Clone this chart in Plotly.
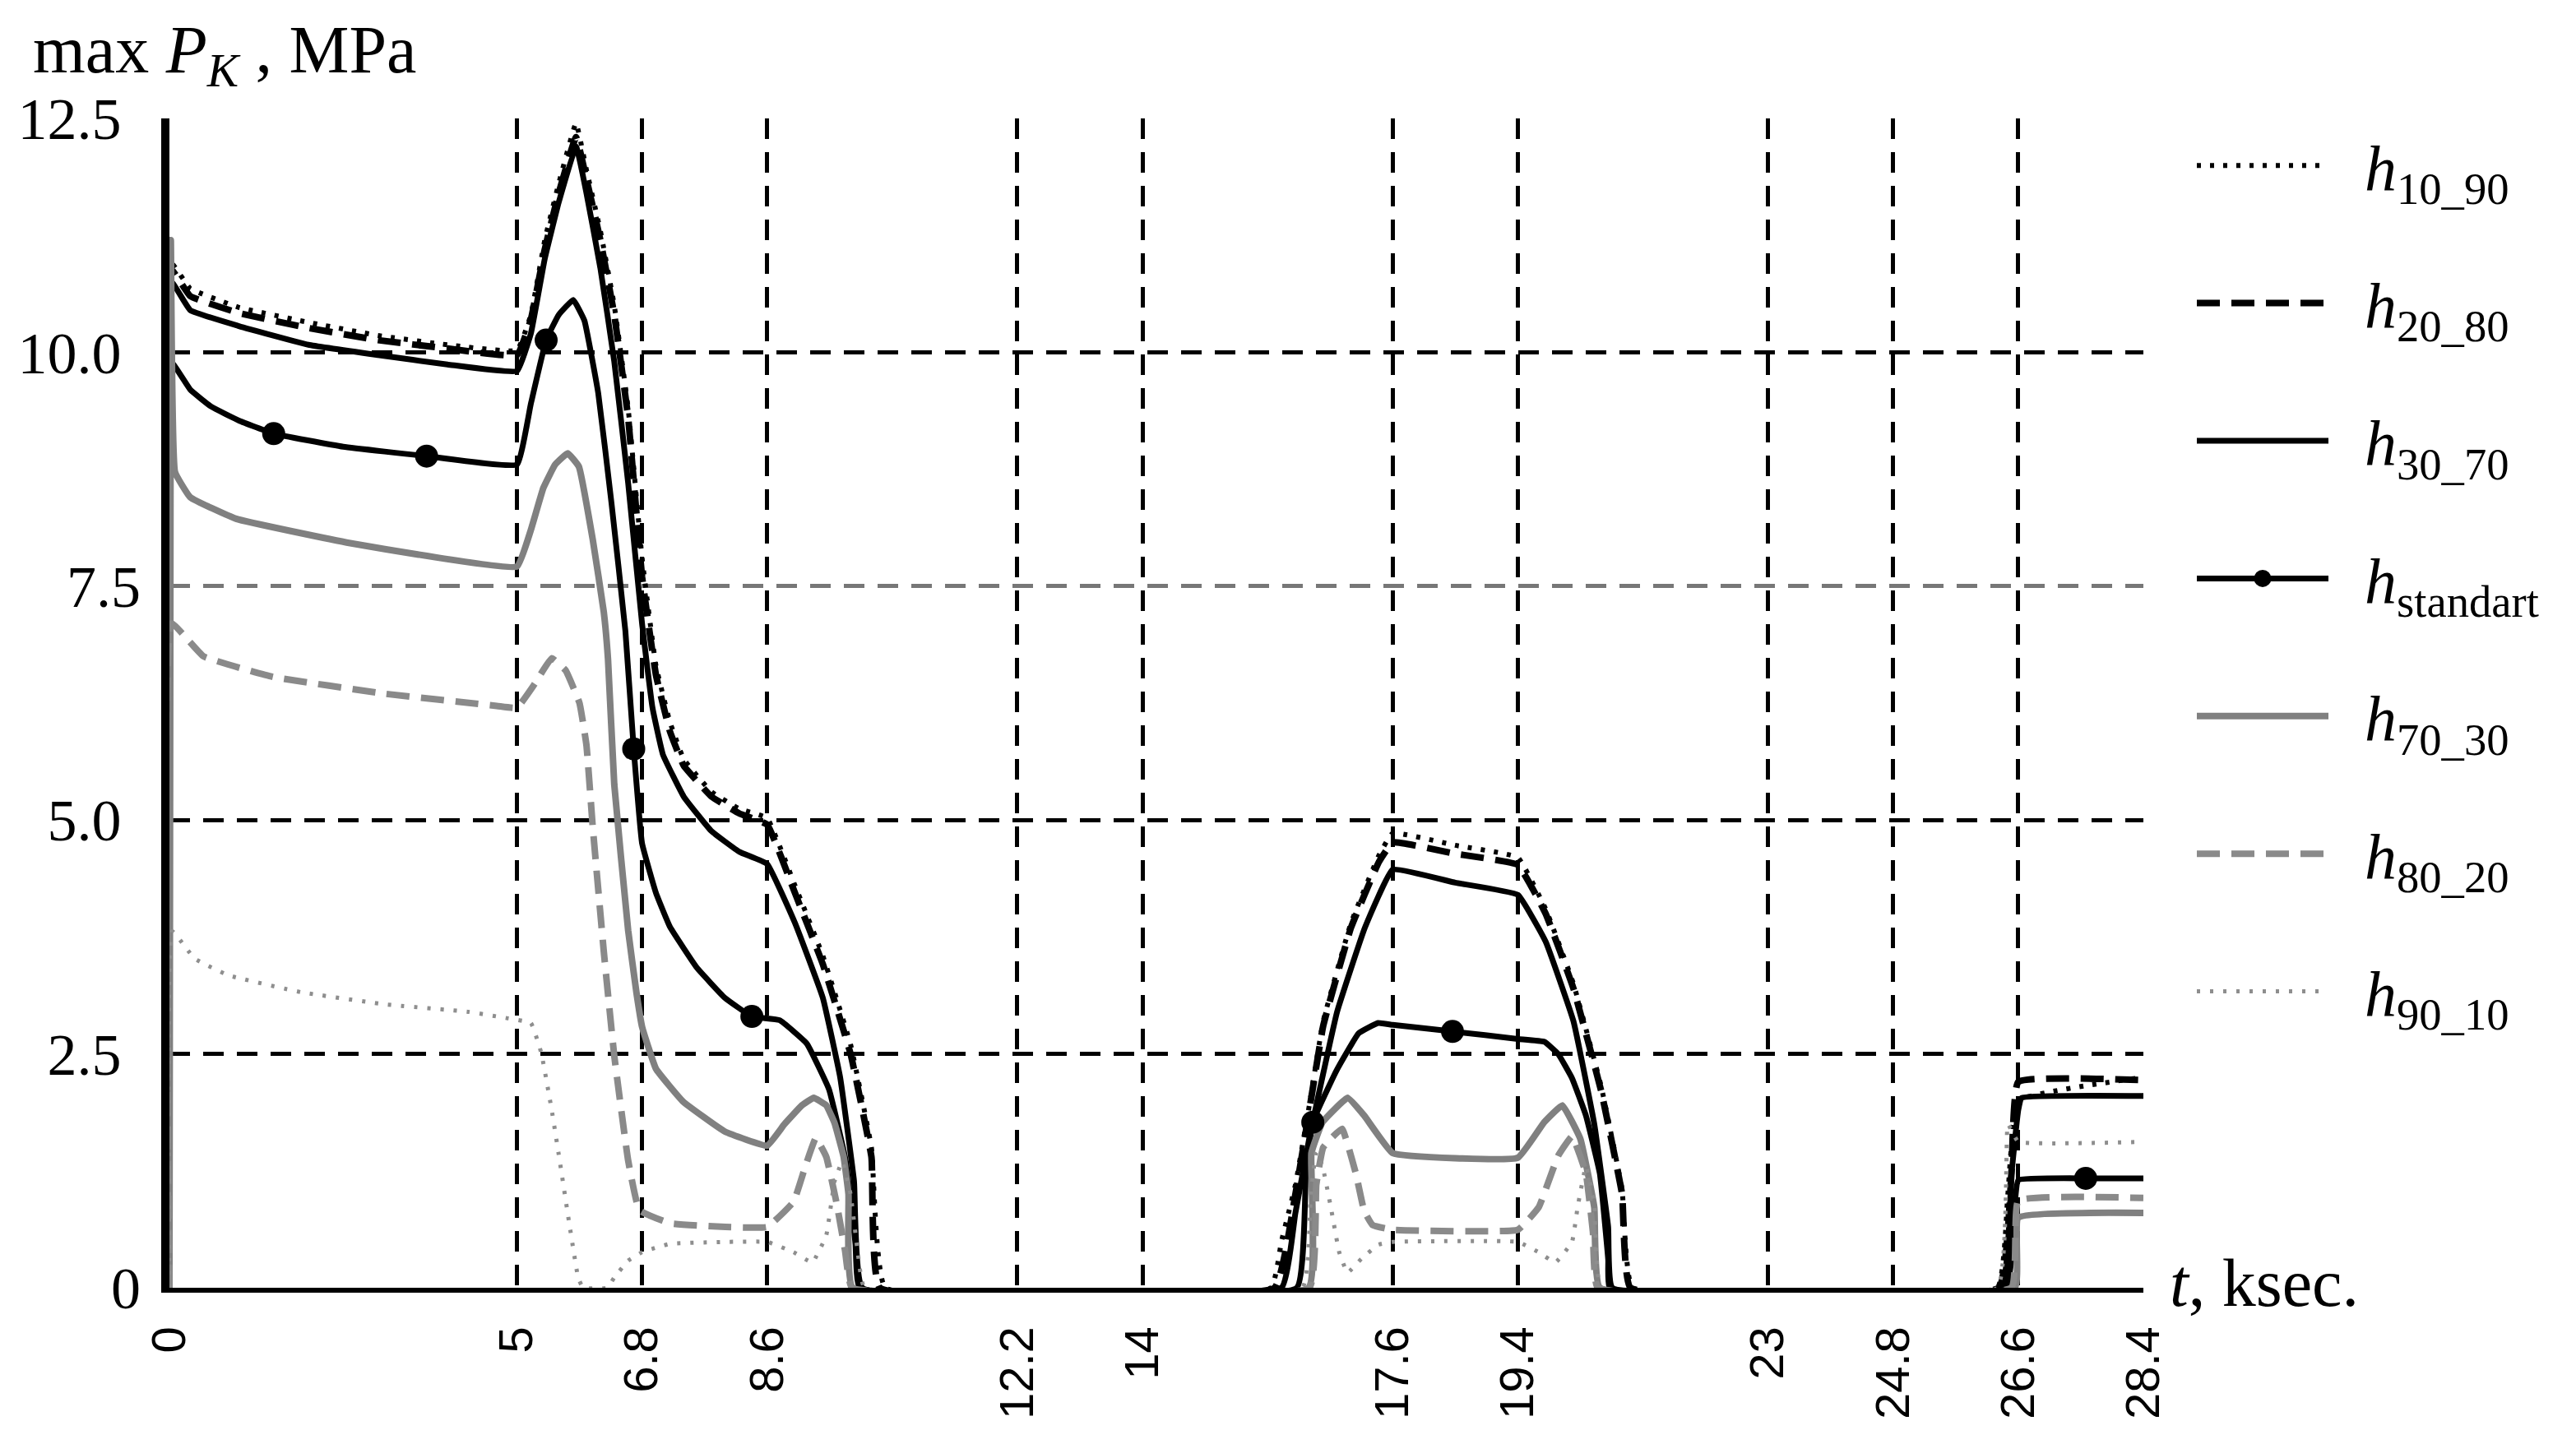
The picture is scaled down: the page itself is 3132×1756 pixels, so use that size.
import plotly.graph_objects as go

# ---------------- data ----------------
t_h10_90 = [0, 0.03, 0.3, 1, 2, 3, 4, 5, 5.2, 5.4, 5.6, 5.85, 6.0, 6.2, 6.4, 6.6, 6.8, 7.0, 7.2, 7.4, 7.8, 8.2, 8.6,
            9.0, 9.4, 9.8, 10.1, 10.3, 15.85, 16.0, 16.2, 16.4, 16.6, 17.0, 17.4, 17.6, 18.5, 19.4, 19.8, 20.2, 20.6,
            20.9, 21.05, 26.3, 26.45, 26.6, 28.4]
v_h10_90 = [0, 10.95, 10.68, 10.48, 10.32, 10.18, 10.08, 10.02, 10.4, 11.2, 11.8, 12.45, 11.95, 11.3, 10.5, 9.4, 7.8,
            6.65, 6.05, 5.65, 5.3, 5.12, 5.02, 4.3, 3.55, 2.6, 1.5, 0, 0, 0.5, 1.1, 1.95, 2.85, 3.9, 4.62, 4.86, 4.73,
            4.6, 4.05, 3.25, 2.15, 1.05, 0, 0, 1.0, 2.0, 2.25]

t_h20_80 = [0, 0.03, 0.3, 1, 2, 3, 4, 5, 5.2, 5.4, 5.6, 5.85, 6.0, 6.2, 6.4, 6.6, 6.8, 7.0, 7.2, 7.4, 7.8, 8.2, 8.6,
            9.0, 9.4, 9.8, 10.1, 10.22, 15.9, 16.2, 16.4, 16.6, 17.0, 17.4, 17.6, 18.5, 19.4, 19.8, 20.2, 20.6, 20.9,
            21.02, 26.32, 26.5, 26.6, 28.4]
v_h20_80 = [0, 10.88, 10.6, 10.42, 10.26, 10.13, 10.04, 9.97, 10.35, 11.1, 11.7, 12.3, 11.85, 11.2, 10.4, 9.3, 7.6,
            6.55, 5.95, 5.58, 5.25, 5.07, 4.95, 4.22, 3.46, 2.5, 1.4, 0, 0, 1.0, 1.9, 2.8, 3.85, 4.55, 4.76, 4.64, 4.52,
            4.0, 3.2, 2.1, 1.0, 0, 0, 1.2, 2.2, 2.22]

t_h30_70 = [0, 0.03, 0.3, 1, 2, 3, 4, 5, 5.2, 5.4, 5.6, 5.85, 6.0, 6.2, 6.4, 6.6, 6.8, 6.95, 7.1, 7.4, 7.8, 8.2, 8.6,
            9.0, 9.4, 9.65, 9.85, 9.97, 16.0, 16.2, 16.4, 16.8, 17.2, 17.6, 18.5, 19.4, 19.8, 20.2, 20.5, 20.7, 20.76,
            26.35, 26.5, 26.6, 26.65, 28.4]
v_h30_70 = [0, 10.75, 10.45, 10.28, 10.08, 9.97, 9.87, 9.8, 10.2, 11.0, 11.6, 12.2, 11.7, 10.9, 9.9, 8.6, 7.1, 6.2,
            5.7, 5.25, 4.88, 4.66, 4.53, 3.9, 3.1, 2.25, 1.14, 0, 0, 0.8, 1.6, 2.95, 3.85, 4.47, 4.33, 4.2, 3.7, 2.85,
            1.75, 0.65, 0, 0, 1.2, 1.9, 2.03, 2.05]

t_std = [0, 0.02, 0.3, 0.6, 1.0, 1.5, 2.5, 3.7, 5.0, 5.2, 5.42, 5.6, 5.81, 5.97, 6.17, 6.36, 6.56, 6.68, 6.8, 7.0,
         7.2, 7.59, 7.99, 8.38, 8.78, 9.17, 9.49, 9.73, 9.87, 9.93, 16.22, 16.35, 16.45, 16.79, 17.11, 17.39, 17.6,
         18.46, 19.4, 19.78, 19.98, 20.18, 20.38, 20.58, 20.7, 20.72, 26.42, 26.55, 26.6, 27.57, 28.4]
v_std = [0, 9.9, 9.6, 9.42, 9.27, 9.13, 8.99, 8.89, 8.8, 9.45, 10.13, 10.4, 10.56, 10.34, 9.56, 8.39, 7.02, 5.76,
         4.75, 4.22, 3.86, 3.42, 3.1, 2.9, 2.86, 2.61, 2.12, 1.36, 0.47, 0, 0, 1.2, 1.77, 2.32, 2.72, 2.83, 2.81,
         2.74, 2.66, 2.63, 2.5, 2.24, 1.84, 1.22, 0.3, 0, 0, 0.9, 1.15, 1.17, 1.17]
t_std_markers = [1.5, 3.7, 5.42, 6.68, 8.38, 16.45, 18.46, 27.57]
v_std_markers = [9.13, 8.89, 10.13, 5.76, 2.9, 1.77, 2.74, 1.17]

t_h70_30 = [0, 0.02, 0.08, 0.3, 0.96, 2.6, 5.0, 5.2, 5.38, 5.55, 5.73, 5.89, 6.09, 6.25, 6.31, 6.4, 6.6, 6.72, 6.8,
            7.0, 7.39, 7.99, 8.6, 8.85, 9.1, 9.27, 9.45, 9.57, 9.7, 9.77, 9.83, 16.39, 16.43, 16.59, 16.95, 17.19,
            17.6, 19.4, 19.78, 20.04, 20.3, 20.5, 20.58, 26.55, 26.6, 28.4]
v_h70_30 = [0, 11.2, 8.72, 8.45, 8.22, 7.96, 7.71, 8.1, 8.55, 8.8, 8.92, 8.78, 8.0, 7.22, 6.72, 5.38, 3.82, 3.15,
            2.79, 2.34, 1.99, 1.67, 1.52, 1.75, 1.95, 2.03, 1.95, 1.76, 1.4, 1.0, 0, 0, 1.44, 1.77, 2.03, 1.84, 1.44,
            1.39, 1.77, 1.95, 1.59, 0.86, 0, 0, 0.75, 0.8]

t_h80_20 = [0, 0.03, 0.49, 1.49, 3.1, 4.71, 5.0, 5.25, 5.5, 5.7, 5.9, 6.0, 6.09, 6.25, 6.4, 6.6, 6.76, 7.2, 8.0, 8.6,
            8.98, 9.15, 9.3, 9.45, 9.6, 9.72, 9.82, 16.4, 16.5, 16.6, 16.87, 17.07, 17.19, 17.31, 17.6, 19.4, 19.7,
            19.98, 20.18, 20.38, 20.48, 20.55, 26.5, 26.6, 28.4]
v_h80_20 = [0, 7.1, 6.75, 6.53, 6.35, 6.22, 6.2, 6.45, 6.73, 6.6, 6.25, 5.8, 4.93, 3.59, 2.48, 1.36, 0.83, 0.69,
            0.65, 0.65, 0.92, 1.3, 1.6, 1.4, 0.9, 0.4, 0, 0, 1.1, 1.5, 1.7, 1.22, 0.82, 0.67, 0.62, 0.62, 0.86, 1.41,
            1.62, 1.22, 0.6, 0, 0, 0.93, 0.96]

t_h90_10 = [0, 0.04, 0.36, 0.85, 1.89, 3.1, 4.3, 4.87, 5.2, 5.35, 5.5, 5.6, 5.75, 5.88, 5.95, 6.3, 6.4, 6.6, 6.8,
            7.2, 8.0, 8.6, 8.98, 9.25, 9.45, 9.57, 9.68, 9.8, 9.9, 10.0, 16.3, 16.42, 16.5, 16.59, 16.71, 16.83, 16.95,
            17.15, 17.39, 17.6, 19.4, 19.7, 19.94, 20.18, 20.26, 20.38, 20.5, 20.6, 26.3, 26.45, 26.6, 28.4]
v_h90_10 = [0, 3.81, 3.52, 3.34, 3.16, 3.03, 2.95, 2.88, 2.83, 2.51, 1.9, 1.43, 0.7, 0.11, 0, 0, 0.11, 0.29, 0.38,
            0.47, 0.49, 0.49, 0.38, 0.27, 0.56, 1.14, 1.35, 1.0, 0.4, 0, 0, 1.0, 1.45, 1.3, 0.86, 0.38, 0.16, 0.31,
            0.46, 0.49, 0.49, 0.38, 0.27, 0.49, 0.86, 1.3, 0.9, 0, 0, 1.75, 1.56, 1.56]

x_ticks = [0, 5, 6.8, 8.6, 12.2, 14, 17.6, 19.4, 23, 24.8, 26.6, 28.4]
x_tick_labels = ["0", "5", "6.8", "8.6", "12.2", "14", "17.6", "19.4", "23", "24.8", "26.6", "28.4"]
y_ticks_black = [2.5, 5, 10, 12.5]
y_tick_labels_black = ["2.5", "5.0", "10.0", "12.5"]
y_ticks_gray = [0, 7.5]
y_tick_labels_gray = ["0", "7.5"]

NB = "\u00a0\u00a0"
names = {
    "h10_90": NB + "<i>h</i><sub>10_90</sub>",
    "h20_80": NB + "<i>h</i><sub>20_80</sub>",
    "h30_70": NB + "<i>h</i><sub>30_70</sub>",
    "std": NB + "<i>h</i><sub>standart</sub>",
    "h70_30": NB + "<i>h</i><sub>70_30</sub>",
    "h80_20": NB + "<i>h</i><sub>80_20</sub>",
    "h90_10": NB + "<i>h</i><sub>90_10</sub>",
}

SERIF = "Liberation Serif"
SANS = "Liberation Sans"
GRID_DASH = "25px,16px"

fig = go.Figure()


def add_line(x, y, key, color, width, dash, legend=True):
    fig.add_trace(go.Scatter(
        x=x, y=y, mode="lines", name=names[key], legendgroup=key, showlegend=legend,
        line=dict(color=color, width=width, dash=dash, shape="spline", smoothing=0.3),
    ))


add_line(t_h10_90, v_h10_90, "h10_90", "black", 6, "5px,11px")
add_line(t_h20_80, v_h20_80, "h20_80", "black", 8, "28px,14px")
add_line(t_h30_70, v_h30_70, "h30_70", "black", 7, "solid")
add_line(t_std, v_std, "std", "black", 7, "solid", legend=False)
# legend entry for the standard profile (line with a marker); it also anchors the second y axis
fig.add_trace(go.Scatter(
    x=[None], y=[None], mode="lines+markers", name=names["std"], legendgroup="std", yaxis="y2",
    line=dict(color="black", width=7),
    marker=dict(color="black", size=28, symbol="circle", line=dict(color="black", width=5)),
))
add_line(t_h70_30, v_h70_30, "h70_30", "#808080", 8, "solid")
add_line(t_h80_20, v_h80_20, "h80_20", "#8a8a8a", 8, "28px,14px")
add_line(t_h90_10, v_h90_10, "h90_10", "#8e8e8e", 5, "4px,12px")
fig.add_trace(go.Scatter(
    x=t_std_markers, y=v_std_markers, mode="markers", showlegend=False,
    marker=dict(color="black", size=28, symbol="circle"),
))

fig.update_layout(
    width=3132, height=1756,
    paper_bgcolor="white", plot_bgcolor="white",
    margin=dict(l=198, r=534, t=136, b=198),
    font=dict(family=SERIF, color="black", size=60),
    xaxis=dict(
        range=[0, 28.4], tickmode="array", tickvals=x_ticks, ticktext=x_tick_labels,
        tickangle=-90, tickfont=dict(family=SANS, size=58, color="black"),
        showgrid=True, gridcolor="black", gridwidth=5, griddash=GRID_DASH,
        showline=True, linecolor="black", linewidth=6, zeroline=False, ticks="",
        ticklabelstandoff=18,
    ),
    yaxis=dict(
        range=[0, 12.5], tickmode="array", tickvals=y_ticks_black, ticktext=y_tick_labels_black,
        tickfont=dict(family=SERIF, size=72, color="black"),
        showgrid=True, gridcolor="black", gridwidth=5, griddash=GRID_DASH,
        showline=True, linecolor="black", linewidth=10, zeroline=False, ticks="",
        ticklabelstandoff=34,
    ),
    yaxis2=dict(
        range=[0, 12.5], overlaying="y", anchor="x", side="left",
        tickmode="array", tickvals=y_ticks_gray, ticktext=y_tick_labels_gray,
        tickfont=dict(family=SERIF, size=72, color="black"),
        showgrid=True, gridcolor="#777777", gridwidth=5, griddash=GRID_DASH,
        showline=False, zeroline=False, ticks="", ticklabelstandoff=34,
    ),
    legend=dict(
        x=1.025, y=1.0, xanchor="left", yanchor="top",
        font=dict(family=SERIF, size=78, color="black"),
        itemwidth=160, tracegroupgap=63, bgcolor="rgba(0,0,0,0)",
    ),
    annotations=[
        dict(text="max <i>P</i><sub><i>K</i></sub> , MPa", xref="paper", yref="paper",
             x=-0.07, y=1.055, xanchor="left", yanchor="middle", showarrow=False,
             font=dict(family=SERIF, size=82, color="black")),
        dict(text="<i>t</i>, ksec.", xref="paper", yref="paper",
             x=1.0125, y=0.004, xanchor="left", yanchor="middle", showarrow=False,
             font=dict(family=SERIF, size=82, color="black")),
    ],
)

fig.write_html("out.html")
